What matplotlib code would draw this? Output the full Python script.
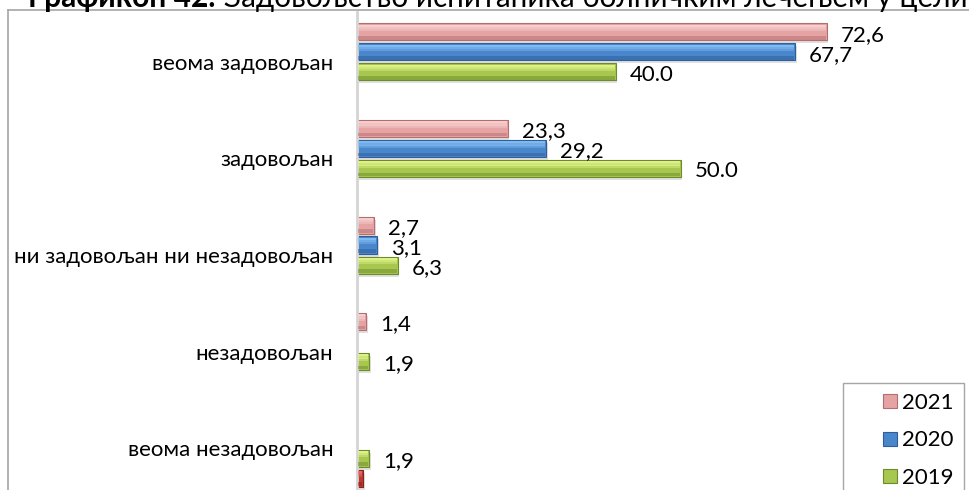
import matplotlib.pyplot as plt
from matplotlib.lines import Line2D

plt.rcParams['font.family'] = ['Lato', 'DejaVu Sans']

categories = [
    "веома задовољан",
    "задовољан",
    "ни задовољан ни незадовољан",
    "незадовољан",
    "веома незадовољан",
]
series_names = ["2021", "2020", "2019"]

# value labels as printed on the chart ('' = no bar)
labels_2021 = ["72,6", "23,3", "2,7", "1,4", ""]
labels_2020 = ["67,7", "29,2", "3,1", "", ""]
labels_2019 = ["40.0", "50.0", "6,3", "1,9", "1,9"]
# unlabelled fourth series, only present in the last row
values_extra = [0, 0, 0, 0, 1.0]

TITLE_BOLD = "Графикон 42."
TITLE_REST = "Задовољство испитаника болничким лечењем у целини"

# (highlight, body, shade) per series
COLORS = [
    ("#f8d3d3", "#e5a3a3", "#b46e6e"),
    ("#86c0f5", "#4a86cc", "#2f5e98"),
    ("#e4f68e", "#a7c74f", "#6d8a2c"),
    ("#e07370", "#c0392f", "#862320"),
]

W, H = 970, 490
FS = 16


def to_value(s):
    return float(s.replace(",", ".")) if s else 0.0


def px_x(x):
    return x / W


def px_y(y):
    return 1 - y / H


fig = plt.figure(figsize=(W / 100, H / 100), dpi=100)

# chart outer border (only top and left edges are inside the image)
fig.add_artist(Line2D([px_x(8), 1.0], [px_y(10), px_y(10)], color="#a6a6a6", lw=1.2))
fig.add_artist(Line2D([px_x(8), px_x(8)], [px_y(10), 0.0], color="#a6a6a6", lw=1.2))

ax = fig.add_axes([px_x(357), 0.0, 1 - px_x(357), px_y(12)])

scale = 6.47                       # px per percent
ax.set_xlim(0, (W - 357) / scale)
group_px = 96.5
first_center = 62
ax.set_ylim((H - first_center) / group_px, (12 - first_center) / group_px)

slot = 20 / group_px
bar_h = 17 / group_px

all_labels = [labels_2021, labels_2020, labels_2019, [""] * len(categories)]
all_values = [[to_value(s) for s in labels_2021],
              [to_value(s) for s in labels_2020],
              [to_value(s) for s in labels_2019],
              values_extra]

for j, (vals, labs) in enumerate(zip(all_values, all_labels)):
    hi, body, shade = COLORS[j]
    ys = [i + (j - 1.5) * slot for i in range(len(categories))]
    for y, v, lab in zip(ys, vals, labs):
        if v <= 0:
            continue
        # soft drop shadow
        ax.barh(y + 3 / group_px, v, height=bar_h, left=0.25, color="black",
                alpha=0.12, lw=0, zorder=1)
        ax.barh(y, v, height=bar_h, color=body, edgecolor=shade, lw=0.8, zorder=2)
        # bevel: light band at top fading into the body, dark band at bottom
        top = y - bar_h / 2
        for k, a in enumerate([0.9, 0.65, 0.4]):
            ax.barh(top + bar_h * (0.14 + 0.12 * k), v - 0.3, height=bar_h * 0.13,
                    left=0.15, color=hi, alpha=a, lw=0, zorder=3)
        ax.barh(top + bar_h * 0.86, v - 0.3, height=bar_h * 0.2, left=0.15,
                color=shade, alpha=0.5, lw=0, zorder=3)
        if lab:
            ax.annotate(lab, (v, y), xytext=(10, -2), textcoords="offset points",
                        ha="left", va="center", fontsize=FS, color="black",
                        annotation_clip=False)

ax.set_yticks(range(len(categories)))
ax.set_yticklabels(categories, fontsize=FS)
ax.tick_params(axis="y", length=0, pad=17)
ax.set_xticks([])
for side in ["top", "right", "bottom"]:
    ax.spines[side].set_visible(False)
ax.spines["left"].set_color("#d4d4d4")
ax.spines["left"].set_linewidth(2)
ax.patch.set_alpha(0)

# legend sits at the lower right, partly outside the image
handles = [Line2D([], [], ls="none", marker="s", markersize=10.5,
                  markerfacecolor=COLORS[k][1], markeredgecolor=COLORS[k][2],
                  markeredgewidth=0.8)
           for k in range(3)]
fig.legend(handles, series_names, loc="upper left", numpoints=1,
           bbox_to_anchor=(px_x(843), px_y(383)), borderaxespad=0,
           fontsize=FS, frameon=True, fancybox=False, edgecolor="#a6a6a6",
           framealpha=1, handlelength=3.29, handletextpad=-1.08,
           labelspacing=0.78, borderpad=0.45)

# title, with its upper part running off the top edge
title_y = px_y(7)
t1 = fig.text(px_x(28), title_y, TITLE_BOLD, fontsize=21.5, fontweight="bold",
              va="baseline", ha="left")
fig.canvas.draw()
bb = t1.get_window_extent(fig.canvas.get_renderer())
fig.text(bb.x1 / W + px_x(9), title_y, TITLE_REST, fontsize=21.3,
         va="baseline", ha="left")

fig.savefig("out.png", dpi=100)
